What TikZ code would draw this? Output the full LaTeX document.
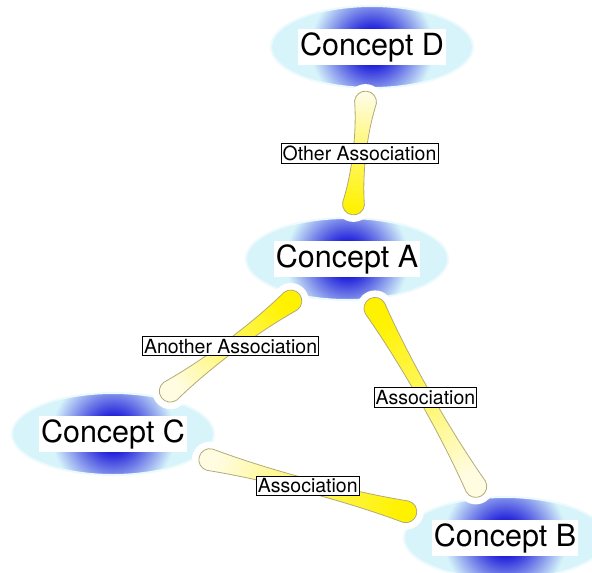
\documentclass[tikz,border=0pt]{standalone}
\usepackage{fontspec}
\setmainfont{TeX Gyre Heros}
\usepackage{tikz}
\usetikzlibrary{shapes.geometric}
\usetikzlibrary{calc}

\definecolor{cblue}{RGB}{30,30,218}
\definecolor{ccyan}{RGB}{214,244,250}
\definecolor{crim}{RGB}{236,250,253}
\definecolor{apale}{RGB}{255,252,226}
\definecolor{abright}{RGB}{255,242,0}
\definecolor{aline}{RGB}{178,170,120}
\colorlet{amid}{abright!55!apale}

\pgfdeclareradialshading{conceptglow}{\pgfpointorigin}{color(0bp)=(cblue); color(4bp)=(cblue); color(14bp)=(ccyan); color(50bp)=(ccyan)}

\tikzset{concept/.style={ellipse, minimum width=202pt, minimum height=82pt, inner sep=0pt, fill=ccyan, draw=crim, line width=2pt,
  path picture={\shade[shading=conceptglow] (path picture bounding box.center) circle (110pt);}}}
\tikzset{ctext/.style={fill=white, inner xsep=2pt, inner ysep=3pt, font=\fontsize{30.5}{36}\selectfont}}
\tikzset{assocbody/.style={draw=aline, line width=0.8pt, bottom color=apale, top color=abright, middle color=amid}}
\tikzset{assoclabel/.style={draw=black, fill=white, line width=0.7pt, inner xsep=1.5pt, inner ysep=2.5pt, font=\fontsize{19.5}{22}\selectfont}}

% tapered link, pale end first
\newcommand{\assoc}[2]{%
  \path (#1); \pgfgetlastxy{\assocax}{\assocay}%
  \path (#2); \pgfgetlastxy{\assocbx}{\assocby}%
  \pgfmathsetmacro{\assocang}{atan2(\assocby-\assocay,\assocbx-\assocax)}%
  \pgfmathsetmacro{\assocsh}{\assocang-90}%
  \fill[white] (#1) circle (18pt) (#2) circle (18pt);
  \path[assocbody, shading angle=\assocsh]
    ($(#1)!11pt!90:(#2)$)
    .. controls ($(#1)!.3!(#2)!5pt!90:(#2)$) and ($(#1)!.7!(#2)!5pt!90:(#2)$) .. ($(#2)!11pt!-90:(#1)$)
    arc[start angle=\assocang+90, end angle=\assocang-90, radius=11pt]
    .. controls ($(#1)!.7!(#2)!5pt!-90:(#2)$) and ($(#1)!.3!(#2)!5pt!-90:(#2)$) .. ($(#1)!11pt!-90:(#2)$)
    arc[start angle=\assocang-90, end angle=\assocang-270, radius=11pt] -- cycle;
}

\begin{document}
\begin{tikzpicture}[x=1pt, y=1pt]
\useasboundingbox (0,0) rectangle (592,-573);

\node[concept, label={[ctext]center:Concept D}] (D) at (372,-47)  {};
\node[concept, label={[ctext]center:Concept A}] (A) at (347,-259) {};
\node[concept, label={[ctext]center:Concept C}] (C) at (113,-434) {};
\node[concept, label={[ctext]center:Concept B}] (B) at (505,-538) {};

\coordinate (DA1) at ($(D)!.26!(A)$);
\coordinate (DA2) at ($(D)!.74!(A)$);
\coordinate (CA1) at ($(A)!.755!(C)$);
\coordinate (CA2) at ($(A)!.24!(C)$);
\coordinate (BA1) at ($(A)!.815!(B)$);
\coordinate (BA2) at ($(A)!.177!(B)$);
\coordinate (CB1) at ($(C)!.247!(B)$);
\coordinate (CB2) at ($(C)!.747!(B)$);

\assoc{DA1}{DA2}
\assoc{CA1}{CA2}
\assoc{BA1}{BA2}
\assoc{CB1}{CB2}

\node[assoclabel] (lDA) at ($(DA1)!.5!(DA2)$) {Other Association};
\node[assoclabel] (lCA) at ($(CA1)!.5!(CA2)$) {Another Association};
\node[assoclabel] (lBA) at ($(BA1)!.5!(BA2)$) {Association};
\node[assoclabel] (lCB) at ($(CB1)!.5!(CB2)$) {Association};

\end{tikzpicture}
\end{document}
